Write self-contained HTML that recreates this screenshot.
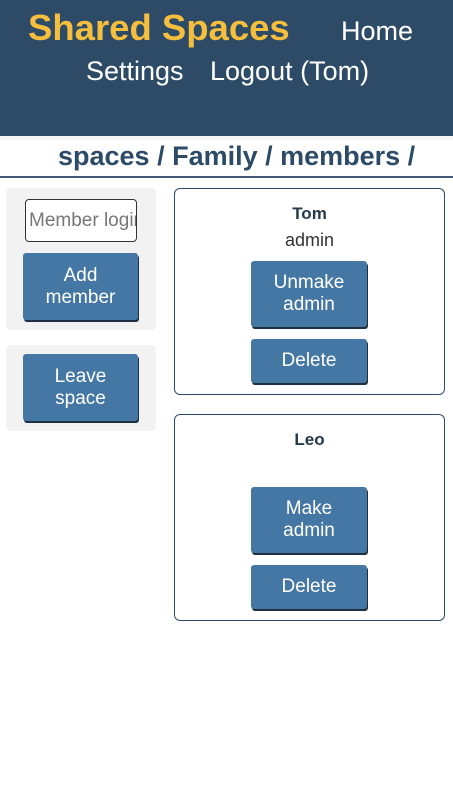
<!DOCTYPE html>
<html><head><style>
*{box-sizing:border-box;margin:0;padding:0}
body{width:453px;height:803px;background:#fff;font-family:"Liberation Sans",sans-serif;position:relative;overflow:hidden}
.abs{position:absolute}
.hdr{left:0;top:0;width:453px;height:136px;background:#2d4b67}
.nav{color:#fff;font-size:27px;white-space:nowrap}
.btn{position:absolute;background:#4477a4;color:#fff;border-radius:3px;box-shadow:1px 2px 0 #1e3040;font-size:19px;text-align:center;display:flex;align-items:center;justify-content:center;line-height:22px}
.panel{position:absolute;background:#f2f2f2;border-radius:5px;left:6px;width:150px}
.card{position:absolute;left:174px;width:271px;height:207px;border:1px solid #2d4b67;border-radius:6px}
.name{position:absolute;width:100%;text-align:center;font-weight:bold;font-size:17px;color:#25384c}
</style></head><body>
<div class="abs hdr"></div>
<div class="abs" style="left:28px;top:7px;color:#f5be3c;font-size:36.5px;font-weight:bold;white-space:nowrap">Shared Spaces</div>
<div class="abs nav" style="left:341px;top:16px">Home</div>
<div class="abs nav" style="left:86px;top:56px">Settings</div>
<div class="abs nav" style="left:210px;top:56px">Logout (Tom)</div>
<div class="abs" style="left:0;top:136px;width:453px;height:4px;background:#f4f6f8"></div>
<div class="abs" style="left:58px;top:141px;font-size:27px;font-weight:bold;color:#2d4b67;white-space:nowrap">spaces / Family / members /</div>
<div class="abs" style="left:0;top:176px;width:453px;height:2px;background:#3e5a74"></div>

<div class="panel" style="top:188px;height:142px"></div>
<div class="abs" style="left:25px;top:199px;width:112px;height:43px;border:1px solid #333;border-radius:4px;background:#fff;overflow:hidden;color:#777;font-size:19px;line-height:41px;padding-left:3px;white-space:nowrap">Member login</div>
<div class="btn" style="left:23px;top:253px;width:115px;height:67px">Add<br>member</div>
<div class="panel" style="top:345px;height:86px"></div>
<div class="btn" style="left:23px;top:354px;width:115px;height:67px">Leave<br>space</div>

<div class="card" style="top:188px">
<div class="name" style="top:15px">Tom</div>
<div class="abs" style="top:41px;width:100%;text-align:center;font-size:18px;color:#333">admin</div>
</div>
<div class="btn" style="left:251px;top:261px;width:116px;height:66px">Unmake<br>admin</div>
<div class="btn" style="left:251px;top:339px;width:116px;height:44px">Delete</div>

<div class="card" style="top:414px">
<div class="name" style="top:15px">Leo</div>
</div>
<div class="btn" style="left:251px;top:487px;width:116px;height:66px">Make<br>admin</div>
<div class="btn" style="left:251px;top:565px;width:116px;height:44px">Delete</div>
</body></html>
